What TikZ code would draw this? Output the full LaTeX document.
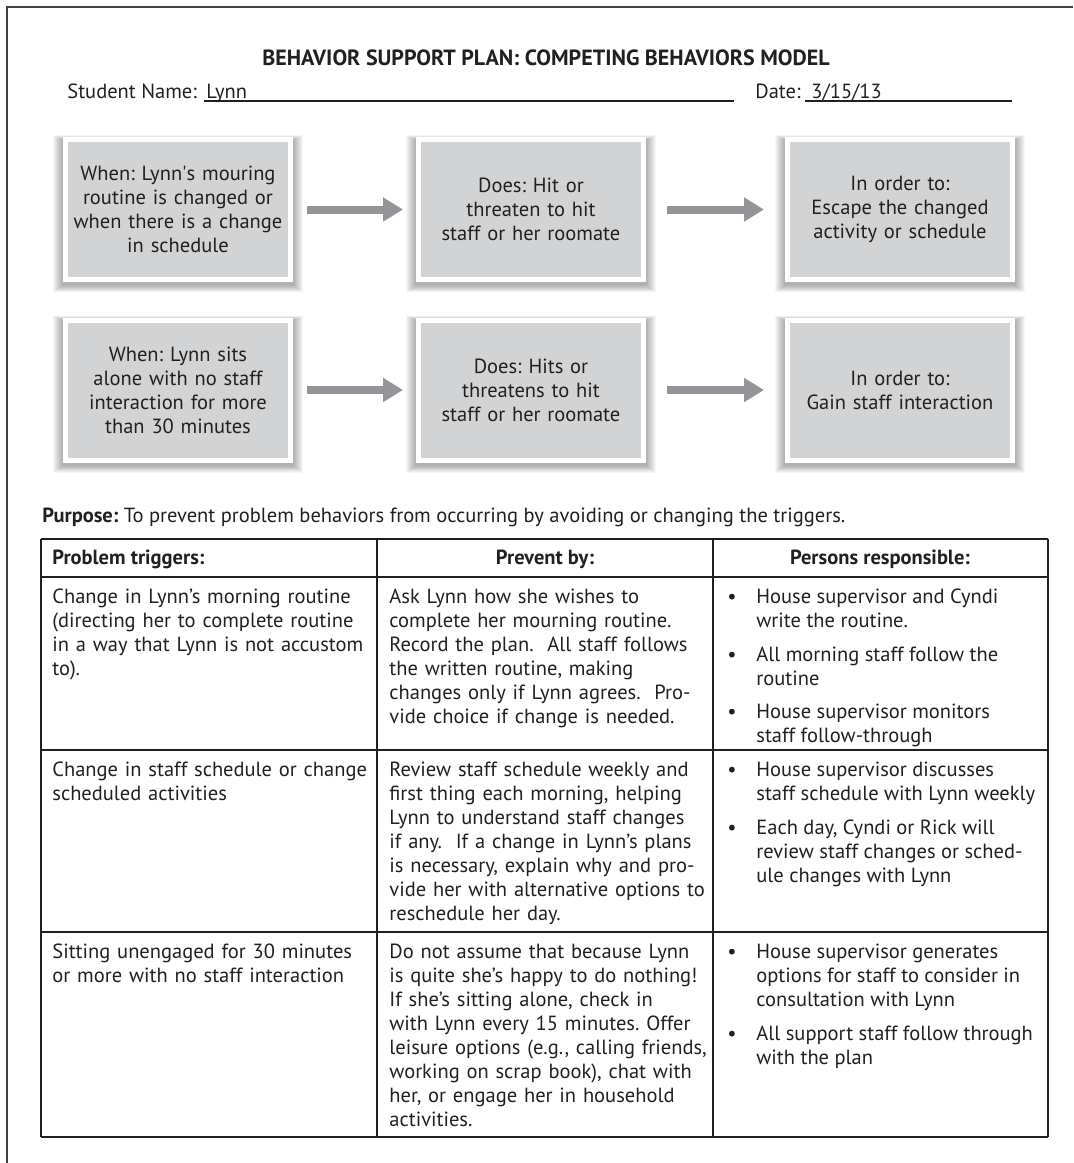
\documentclass[tikz,border=0pt]{standalone}
\usepackage{fontspec}
\setmainfont{PT Sans}
\newfontfamily\straight{PT Sans}[Ligatures=TeXOff]
\usetikzlibrary{positioning,arrows.meta,backgrounds}
\frenchspacing

\definecolor{boxgray}{RGB}{209,211,212}
\definecolor{arrowgray}{RGB}{147,149,152}
\definecolor{ink}{RGB}{35,31,32}

\newcommand\bodyfont{\fontsize{10.25}{12}\selectfont}
\newcommand\bul[1]{\makebox[14.5pt][l]{\textbullet}\parbox[t]{150pt}{\raggedright\strut#1\strut}}

\begin{document}
\begin{tikzpicture}[x=0.5pt,y=-0.5pt,
  text=ink, font=\bodyfont,
  plan/.style={draw=white, line width=2.5pt, fill=boxgray, minimum width=112.5pt,
    minimum height=70pt, text width=106pt, align=center, inner sep=2pt},
  flow/.style={draw=arrowgray, line width=4pt, -{Triangle[length=10pt,width=11.5pt]}},
  plain/.style={inner sep=0pt},
  cell/.style={anchor=north west, inner sep=0pt, text width=162pt, align=left,
    execute at begin node={\noindent\strut}, execute at end node={\strut}},
  item/.style={anchor=north west, inner sep=0pt, node distance=4.5pt},
  hrule/.style={draw=ink, line width=1.3pt},
  vrule/.style={draw=ink, line width=1pt}]

\useasboundingbox (0,0) rectangle (1073,1163);

% page edge
\draw[black!75, line width=0.7pt] (1073,7) -- (7,7) -- (7,1163);

% heading
\node[plain, font=\bfseries\fontsize{11}{13}\selectfont] (title) at (546,58)
  {BEHAVIOR SUPPORT PLAN: COMPETING BEHAVIORS MODEL};
\node[plain, anchor=base west] (sname) at (67,98) {Student Name:};
\node[plain, anchor=base west] (lynn) at (206,98) {Lynn};
\node[plain, anchor=base west] (dlabel) at (755,98) {Date:};
\node[plain, anchor=base west] (date) at (811,98) {3/15/13};
\draw[ink, line width=0.6pt] (204,101) -- (734,101);
\draw[ink, line width=0.6pt] (805,101) -- (1012,101);

% competing behaviors boxes
\node[plan] (w1) at (178,209.5) {When: Lynn{\straight'}s mouring\\routine is changed or\\when there is a change\\in schedule};
\node[plan] (d1) at (531,209.5) {Does: Hit or\\threaten to hit\\staff or her roomate};
\node[plan] (o1) at (900,209.5) {In order to:\\Escape the changed\\activity or schedule};
\node[plan] (w2) at (178,390) {When: Lynn sits\\alone with no staff\\interaction for more\\than 30 minutes};
\node[plan] (d2) at (531,390) {Does: Hits or\\threatens to hit\\staff or her roomate};
\node[plan] (o2) at (900,390) {In order to:\\Gain staff interaction};

\begin{scope}[on background layer]
  \foreach \b in {w1,d1,o1,w2,d2,o2}
    \foreach \r in {1,...,10}
      \fill[black, opacity=0.035] ([shift={(-\r,\r*0.7+3)}]\b.south west)
        rectangle ([shift={(\r,-\r*0.5+3)}]\b.north east);
\end{scope}

\draw[flow, shorten <=7pt, shorten >=6.5pt] (w1) -- (d1);
\draw[flow, shorten <=10.5pt, shorten >=10.5pt] (d1) -- (o1);
\draw[flow, shorten <=7pt, shorten >=6.5pt] (w2) -- (d2);
\draw[flow, shorten <=10.5pt, shorten >=10.5pt] (d2) -- (o2);

\node[plain, anchor=base west] (purpose) at (42,522)
  {\textbf{Purpose:} To prevent problem behaviors from occurring by avoiding or changing the triggers.};

% table
\draw[hrule] (41,539) -- (1048,539);
\draw[hrule] (41,577) -- (1048,577);
\draw[hrule] (41,750) -- (1048,750);
\draw[hrule] (41,932) -- (1048,932);
\draw[hrule] (41,1137) -- (1048,1137);
\draw[vrule] (41,539) -- (41,1137);
\draw[vrule] (377,539) -- (377,1137);
\draw[vrule] (713,539) -- (713,1137);
\draw[vrule] (1048,539) -- (1048,1137);

\node[plain, anchor=base west, font=\bodyfont\bfseries] (h1) at (52,564) {Problem triggers:};
\node[plain, anchor=base, font=\bodyfont\bfseries] (h2) at (545,564) {Prevent by:};
\node[plain, anchor=base, font=\bodyfont\bfseries] (h3) at (880,564) {Persons responsible:};

\node[cell] (t1) at (52,586) {Change in Lynn’s morning routine\\(directing her to complete routine\\in a way that Lynn is not accustom\\to).};
\node[cell] (p1) at (389,586) {Ask Lynn how she wishes to\\complete her mourning routine.\\Record the plan.\ \ All staff follows\\the written routine, making\\changes only if Lynn agrees.\ \ Pro-\\vide choice if change is needed.};
\node[item] (r1a) at (727,586) {\bul{House supervisor and Cyndi\\write the routine.}};
\node[item, below=of r1a] (r1b) {\bul{All morning staff follow the\\routine}};
\node[item, below=of r1b] (r1c) {\bul{House supervisor monitors\\staff follow-through}};

\node[cell] (t2) at (52,759) {Change in staff schedule or change\\scheduled activities};
\node[cell] (p2) at (389,759) {Review staff schedule weekly and\\first thing each morning, helping\\Lynn to understand staff changes\\if any.\ \ If a change in Lynn’s plans\\is necessary, explain why and pro-\\vide her with alternative options to\\reschedule her day.};
\node[item] (r2a) at (727,759) {\bul{House supervisor discusses\\staff schedule with Lynn weekly}};
\node[item, below=of r2a] (r2b) {\bul{Each day, Cyndi or Rick will\\review staff changes or sched-\\ule changes with Lynn}};

\node[cell] (t3) at (52,941) {Sitting unengaged for 30 minutes\\or more with no staff interaction};
\node[cell] (p3) at (389,941) {Do not assume that because Lynn\\is quite she’s happy to do nothing!\\If she’s sitting alone, check in\\with Lynn every 15 minutes. Offer\\leisure options (e.g., calling friends,\\working on scrap book), chat with\\her, or engage her in household\\activities.};
\node[item] (r3a) at (727,941) {\bul{House supervisor generates\\options for staff to consider in\\consultation with Lynn}};
\node[item, below=of r3a] (r3b) {\bul{All support staff follow through\\with the plan}};

\end{tikzpicture}
\end{document}
